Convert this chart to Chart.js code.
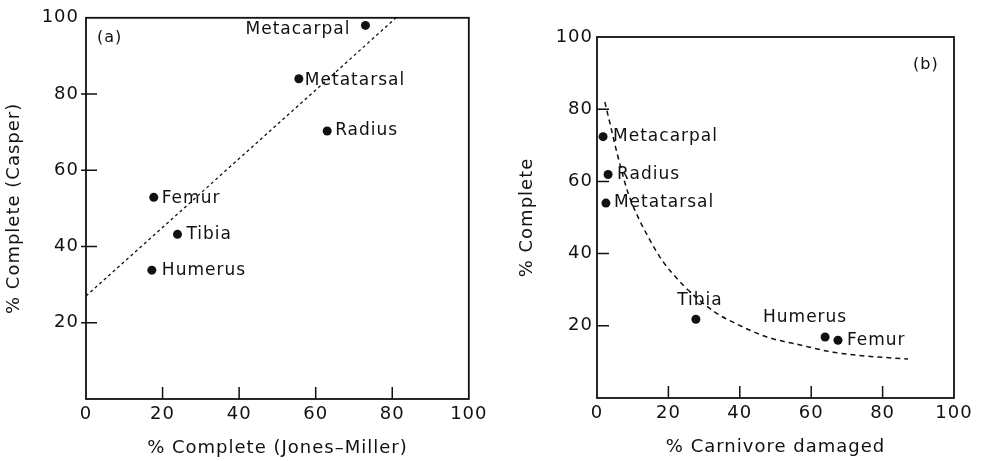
<!DOCTYPE html>
<html><head><meta charset="utf-8">
<script src="https://cdn.jsdelivr.net/npm/chart.js@4.4.1/dist/chart.umd.min.js"></script>
<style>
html,body{margin:0;padding:0;background:#fff;}
#wrap{position:relative;width:983px;height:461px;overflow:hidden;background:#fff;}
canvas{position:absolute;top:0;}
</style></head><body>
<div id="wrap">
<canvas id="ca" width="491" height="461" style="left:0"></canvas>
<canvas id="cb" width="492" height="461" style="left:491px"></canvas>
</div>
<script>
// ---- data: panel (a)
const bonesA = ['Metacarpal','Metatarsal','Radius','Femur','Tibia','Humerus'];
const jonesMiller = [73, 55.6, 63, 17.7, 23.9, 17.2];
const casper = [98, 84, 70.3, 52.9, 43.2, 33.8];
const fitAX = [0, 81];
const fitAY = [27, 100];

// ---- data: panel (b)
const bonesB = ['Metacarpal','Radius','Metatarsal','Tibia','Humerus','Femur'];
const carnivoreDamaged = [1.7, 3.1, 2.5, 27.7, 63.9, 67.5];
const completeB = [72.4, 61.9, 54, 21.8, 16.9, 16];
const curveBX = [2.2, 3.6, 5.6, 8.7, 11.5, 14.8, 18.2, 24.1, 33, 38.1, 47.6, 56.9, 66.1, 75.6, 87.1];
const curveBY = [82, 76.2, 67.9, 56.8, 50.1, 43.8, 38.2, 31.3, 23.8, 21, 16.9, 14.7, 12.7, 11.6, 10.8];

// ---- tick labels
const xTickLabels = [0, 20, 40, 60, 80, 100];
const yTickLabels = [20, 40, 60, 80, 100];
const innerTicks = [20, 40, 60, 80];

// ---- label placement (style)
const placeA = [
  {dx:-15, dy:4, align:'right'},
  {dx:6, dy:2, align:'left'},
  {dx:8, dy:0, align:'left'},
  {dx:8, dy:1, align:'left'},
  {dx:9, dy:0, align:'left'},
  {dx:10, dy:0, align:'left'}
];
const placeB = [
  {dx:10, dy:0, align:'left'},
  {dx:9, dy:0, align:'left'},
  {dx:8, dy:0, align:'left'},
  {dx:4, dy:-19, align:'center'},
  {dx:-20, dy:-19, align:'center'},
  {dx:9, dy:0, align:'left'}
];

const F = 'DejaVu Sans';
const INK = '#111';

function pts(xs, ys){ return xs.map((x,i)=>({x:x, y:ys[i]})); }

function decorPlugin(opts){
  return {
    id:'decor',
    beforeDraw(chart){ chart.ctx.letterSpacing = '1px'; },
    afterDraw(chart){
      const ctx = chart.ctx, a = chart.chartArea;
      const xs = chart.scales.x, ys = chart.scales.y;
      ctx.save();
      ctx.strokeStyle = INK; ctx.lineWidth = 1.8;
      ctx.strokeRect(a.left, a.top, a.right-a.left, a.bottom-a.top);
      ctx.lineWidth = 1.5;
      ctx.beginPath();
      innerTicks.forEach(v=>{
        const px = xs.getPixelForValue(v);
        ctx.moveTo(px, a.bottom); ctx.lineTo(px, a.bottom - opts.xTickLen);
        const py = ys.getPixelForValue(v);
        ctx.moveTo(a.left - opts.yTickOut, py); ctx.lineTo(a.left + opts.yTickIn, py);
      });
      ctx.stroke();
      // point labels
      ctx.fillStyle = INK;
      ctx.font = '17px "' + F + '"';
      ctx.letterSpacing = '1px';
      ctx.textBaseline = 'middle';
      const meta = chart.getDatasetMeta(0);
      meta.data.forEach((el,i)=>{
        const p = opts.place[i];
        ctx.textAlign = p.align;
        ctx.fillText(opts.names[i], el.x + p.dx, el.y + p.dy);
      });
      // panel letter
      ctx.font = '16px "' + F + '"';
      ctx.textAlign = 'left';
      ctx.fillText(opts.panel, a.left + opts.panelDx, a.top + opts.panelDy);
      ctx.restore();
    }
  };
}

function makeChart(id, cfg){
  return new Chart(document.getElementById(id), {
    type:'scatter',
    data:{ datasets:[
      { data: cfg.points, pointRadius:4.5, pointHoverRadius:4.5, backgroundColor:INK, borderColor:INK, borderWidth:0, order:1 },
      { type:'line', data: cfg.line, showLine:true, pointRadius:0, borderColor:INK, borderWidth:cfg.lineW,
        borderDash:cfg.dash, tension:cfg.tension, cubicInterpolationMode:cfg.tension?'monotone':'default', fill:false, order:2 }
    ]},
    options:{
      responsive:false, animation:false, devicePixelRatio:1,
      layout:{ padding:{ top:cfg.padTop, right:cfg.padRight, left:0, bottom:0 } },
      plugins:{ legend:{display:false}, tooltip:{enabled:false} },
      events:[],
      scales:{
        x:{ type:'linear', min:0, max:100,
          afterBuildTicks:s=>{ s.ticks = xTickLabels.map(v=>({value:v})); },
          afterFit:s=>{ s.height = cfg.xh; },
          grid:{display:false, drawTicks:false}, border:{display:false},
          ticks:{ padding:cfg.xpad, color:INK, font:{family:F, size:18}, maxRotation:0, autoSkip:false },
          title:{ display:true, text:cfg.xTitle, color:INK, font:{family:F, size:18}, padding:{top:0, bottom:cfg.xtpb} }
        },
        y:{ type:'linear', min:0, max:100,
          afterBuildTicks:s=>{ s.ticks = yTickLabels.map(v=>({value:v})); },
          afterFit:s=>{ s.width = cfg.yw; },
          grid:{display:false, drawTicks:false}, border:{display:false},
          ticks:{ padding:cfg.ypad, color:INK, font:{family:F, size:18} },
          title:{ display:true, text:cfg.yTitle, color:INK, font:{family:F, size:18}, padding:{top:cfg.ytpt, bottom:0} }
        }
      }
    },
    plugins:[decorPlugin(cfg)]
  });
}

makeChart('ca', {
  points: pts(jonesMiller, casper), line: pts(fitAX, fitAY), lineW:1.3, dash:[3,3], tension:0,
  padTop:15, padRight:22, xh:62, yw:86, xpad:5, ypad:7, xtpb:2, ytpt:4,
  xTitle:'% Complete (Jones\u2013Miller)', yTitle:'% Complete (Casper)',
  names:bonesA, place:placeA, panel:'(a)', panelDx:11, panelDy:20,
  xTickLen:12, yTickOut:5, yTickIn:11
});
makeChart('cb', {
  points: pts(carnivoreDamaged, completeB), line: pts(curveBX, curveBY), lineW:1.5, dash:[5,4], tension:0.4,
  padTop:37, padRight:29, xh:63, yw:106, xpad:5, ypad:4, xtpb:3, ytpt:26,
  xTitle:'% Carnivore damaged', yTitle:'% Complete',
  names:bonesB, place:placeB, panel:'(b)', panelDx:316, panelDy:28,
  xTickLen:12, yTickOut:0, yTickIn:12
});
</script>
</body></html>
